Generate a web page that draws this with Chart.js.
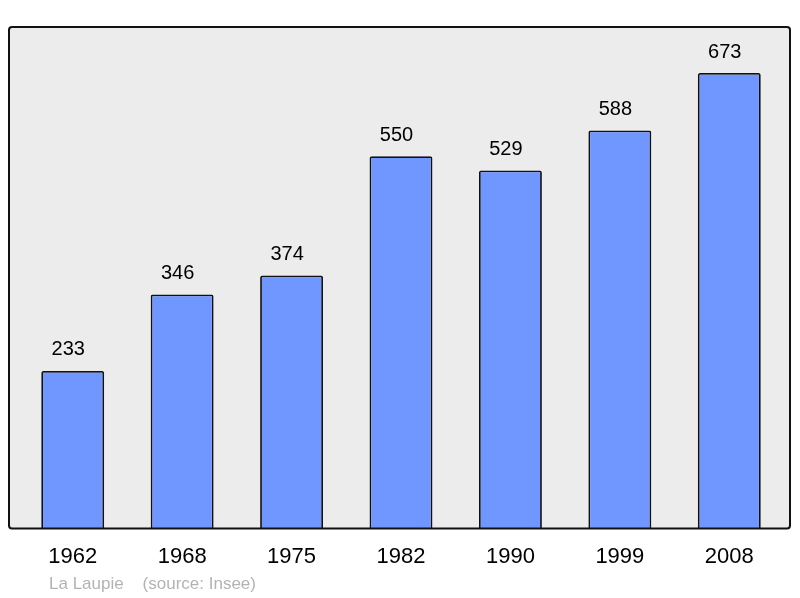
<!DOCTYPE html>
<html>
<head>
<meta charset="utf-8">
<script src="https://cdn.jsdelivr.net/npm/chart.js@4/dist/chart.umd.min.js"></script>
<style>
  html, body { margin: 0; padding: 0; background: #fff; }
  #wrap { position: relative; width: 800px; height: 598px; }
  #foot { position: absolute; left: 49px; top: 574px; font: 17px "Liberation Sans", Arial, sans-serif; color: #b3b3b3; white-space: pre; }
</style>
</head>
<body>
<div id="wrap">
  <canvas id="myChart" width="800" height="598"></canvas>
  <div id="foot">La Laupie    (source: Insee)</div>
</div>
<script>
const years = ['1962', '1968', '1975', '1982', '1990', '1999', '2008'];
const population = [233, 346, 374, 550, 529, 588, 673];
const yMax = 741;

const ctx = document.getElementById('myChart');

// fond gris + cadre arrondi
const fondPlugin = {
  id: 'fond',
  beforeDraw(chart) {
    const a = chart.chartArea;
    const c = chart.ctx;
    const x = a.left - 9, y = a.top, w = (a.right + 6) - x, h = a.bottom - a.top;
    c.save();
    c.beginPath();
    c.roundRect(x, y, w, h, 3);
    c.fillStyle = '#ececec';
    c.fill();
    c.restore();
  },
  afterDatasetsDraw(chart) {
    const a = chart.chartArea;
    const c = chart.ctx;
    const x = a.left - 9, y = a.top, w = (a.right + 6) - x, h = a.bottom - a.top;
    c.save();
    c.beginPath();
    c.roundRect(x, y, w, h, 3);
    c.lineWidth = 2;
    c.strokeStyle = '#111';
    c.stroke();
    // valeurs au-dessus des barres
    c.font = '20px "Liberation Sans", Arial, sans-serif';
    c.fillStyle = '#000';
    c.textAlign = 'center';
    c.textBaseline = 'middle';
    chart.getDatasetMeta(0).data.forEach((bar, i) => {
      c.fillText(population[i], bar.x - 4.5, bar.y - 21);
    });
    c.restore();
  }
};

new Chart(ctx, {
  type: 'bar',
  data: {
    labels: years,
    datasets: [{
      data: population,
      backgroundColor: '#7096ff',
      borderColor: '#111',
      borderWidth: 1.8,
      borderRadius: 2,
      borderSkipped: 'bottom',
      categoryPercentage: 1,
      barPercentage: 0.575
    }]
  },
  options: {
    responsive: false,
    animation: false,
    layout: { padding: { left: 18, right: 16, top: 27, bottom: 21 } },
    plugins: {
      legend: { display: false },
      tooltip: { enabled: false }
    },
    scales: {
      x: {
        grid: { display: false },
        border: { display: false },
        ticks: {
          color: '#000',
          padding: 7,
          font: { size: 22, family: '"Liberation Sans", Arial, sans-serif' }
        }
      },
      y: {
        display: false,
        min: 0,
        max: yMax
      }
    }
  },
  plugins: [fondPlugin]
});
</script>
</body>
</html>
